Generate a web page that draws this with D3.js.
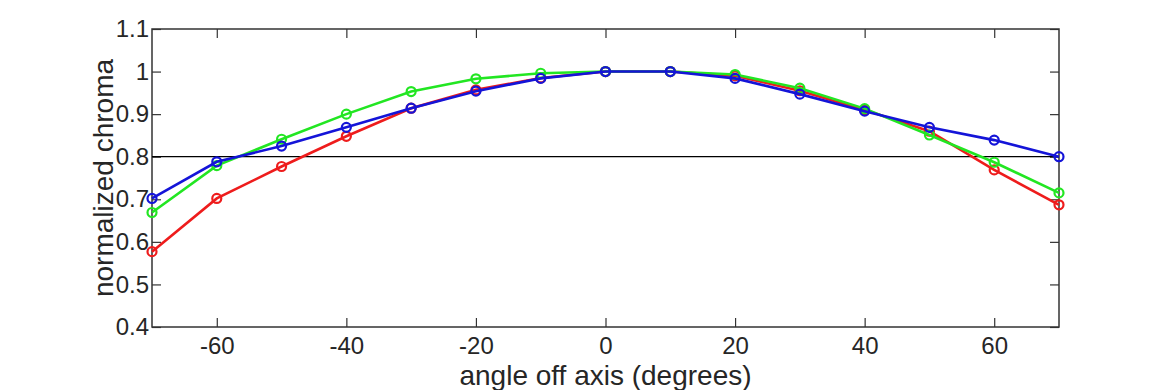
<!doctype html>
<html>
  <head>
    <meta charset="utf-8">
    <script src="https://cdnjs.cloudflare.com/ajax/libs/d3/7.8.5/d3.min.js"></script>
    <style>
      body { margin: 0; background: #fff; }
      text { font-family: "Liberation Sans", Arial, sans-serif; fill: #262626; }
    </style>
  </head>
  <body>
    <svg width="1170" height="390"></svg>
    <script>
      var angles = [-70, -60, -50, -40, -30, -20, -10, 0, 10, 20, 30, 40, 50, 60, 70];
      var redValues   = [0.577, 0.702, 0.777, 0.848, 0.914, 0.957, 0.985, 1.0, 1.0, 0.99, 0.955, 0.91, 0.86, 0.769, 0.687];
      var greenValues = [0.669, 0.779, 0.841, 0.90, 0.953, 0.983, 0.996, 1.0, 1.0, 0.993, 0.961, 0.913, 0.851, 0.787, 0.715];
      var blueValues  = [0.702, 0.788, 0.825, 0.869, 0.914, 0.954, 0.984, 1.0, 1.0, 0.984, 0.947, 0.907, 0.869, 0.839, 0.80];
      var xTicks = [-60, -40, -20, 0, 20, 40, 60];
      var yTicks = [0.4, 0.5, 0.6, 0.7, 0.8, 0.9, 1.0, 1.1];
      var threshold = 0.8;

      var plotLeft = 152, plotRight = 1059, plotTop = 29, plotBottom = 327;
      var svg = d3.select("svg");

      var x = d3.scaleLinear().domain([-70, 70]).range([plotLeft, plotRight]);
      var y = d3.scaleLinear().domain([0.4, 1.1]).range([plotBottom, plotTop]);

      function styleAxis(g) {
        g.select(".domain").remove();
        g.selectAll("line").attr("stroke", "#333").attr("stroke-width", 1.2);
        g.selectAll("text").style("font-size", "24px").attr("fill", "#262626");
      }

      svg.append("g").attr("transform", "translate(0," + plotBottom + ")")
        .call(d3.axisBottom(x).tickValues(xTicks).tickSizeInner(-9).tickSizeOuter(0).tickPadding(10).tickFormat(d => String(d)))
        .call(styleAxis);
      svg.append("g").attr("transform", "translate(0," + plotTop + ")")
        .call(d3.axisTop(x).tickValues(xTicks).tickSizeInner(-9).tickSizeOuter(0).tickFormat(""))
        .call(styleAxis);
      svg.append("g").attr("transform", "translate(" + plotLeft + ",0)")
        .call(d3.axisLeft(y).tickValues(yTicks).tickSizeInner(-9).tickSizeOuter(0).tickPadding(3).tickFormat(d => d === 1 ? "1" : d.toFixed(1)))
        .call(styleAxis);
      svg.append("g").attr("transform", "translate(" + plotRight + ",0)")
        .call(d3.axisRight(y).tickValues(yTicks).tickSizeInner(-9).tickSizeOuter(0).tickFormat(""))
        .call(styleAxis);

      svg.append("rect")
        .attr("x", plotLeft).attr("y", plotTop)
        .attr("width", plotRight - plotLeft).attr("height", plotBottom - plotTop)
        .attr("fill", "none").attr("stroke", "#333").attr("stroke-width", 1.5);

      svg.append("line")
        .attr("x1", plotLeft).attr("x2", plotRight)
        .attr("y1", y(threshold)).attr("y2", y(threshold))
        .attr("stroke", "#000").attr("stroke-width", 1.3);

      var series = [
        {color: "#ee1c1c", values: redValues},
        {color: "#22e622", values: greenValues},
        {color: "#1414d8", values: blueValues}
      ];

      var line = d3.line().x((d, i) => x(angles[i])).y(d => y(d));

      series.forEach(function(s) {
        var g = svg.append("g");
        g.append("path")
          .attr("d", line(s.values))
          .attr("fill", "none").attr("stroke", s.color).attr("stroke-width", 2.6);
        g.selectAll("circle").data(s.values).enter()
          .append("circle")
            .attr("cx", (d, i) => x(angles[i]))
            .attr("cy", d => y(d))
            .attr("r", 4.5)
            .attr("fill", "none").attr("stroke", s.color).attr("stroke-width", 2.2);
      });

      svg.append("text")
        .attr("x", (plotLeft + plotRight) / 2).attr("y", 385)
        .attr("text-anchor", "middle")
        .style("font-size", "28px")
        .text("angle off axis (degrees)");

      svg.append("text")
        .attr("transform", "translate(113," + ((plotTop + plotBottom) / 2) + ") rotate(-90)")
        .attr("text-anchor", "middle")
        .style("font-size", "28px")
        .text("normalized chroma");
    </script>
  </body>
</html>
